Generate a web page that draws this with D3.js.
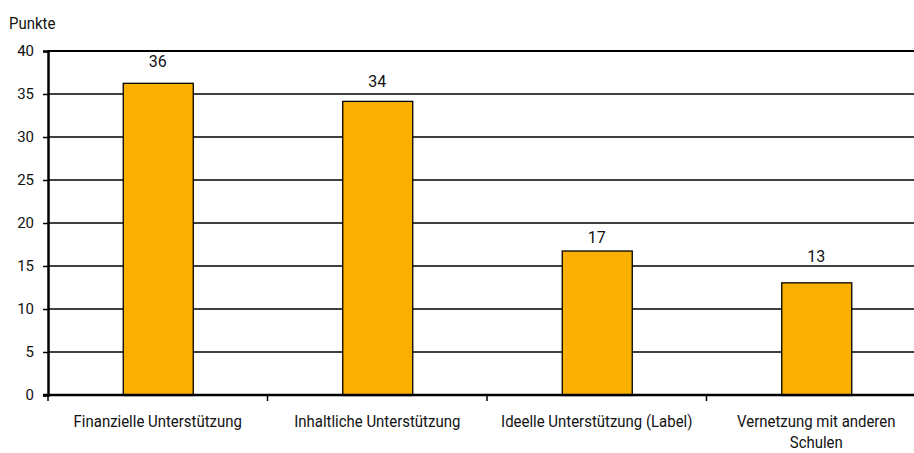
<!DOCTYPE html>
<html><head><meta charset="utf-8">
<script src="https://cdn.jsdelivr.net/npm/d3@7"></script>
<style>body{margin:0;background:#fff}svg{display:block}text{font-family:Roboto,"Noto Sans",sans-serif;fill:#111}</style>
</head><body><svg id="c" width="914" height="453"></svg>
<script>
const categories = [["Finanzielle Unterstützung"],["Inhaltliche Unterstützung"],["Ideelle Unterstützung (Label)"],["Vernetzung mit anderen","Schulen"]];
const values = [36.3, 34.2, 16.8, 13.1];
const valueLabels = ["36","34","17","13"];
const yTicks = [0,5,10,15,20,25,30,35,40];
const yTitle = "Punkte";

const svg = d3.select("#c");
const x0 = 48, x1 = 926, yTop = 51, yBot = 395;
const x = d3.scaleBand().domain(d3.range(categories.length)).range([x0, x1]).paddingInner(0).paddingOuter(0);
const y = d3.scaleLinear().domain([0,40]).range([yBot, yTop]);
const barW = 70;
const sx = 0.88;
const labelGap = [16, 14, 8, 20]; // label placement offsets above bar tops (style)

// gridlines
svg.append("g").selectAll("line").data(yTicks.filter(t=>t>0)).join("line")
  .attr("x1", x0).attr("x2", x1).attr("y1", d=>y(d)).attr("y2", d=>y(d))
  .attr("stroke", "#000").attr("stroke-width", d=> d===40 ? 2 : 1.4);

// bars
svg.append("g").selectAll("rect").data(values).join("rect")
  .attr("x", (d,i)=> x(i) + x.bandwidth()/2 - barW/2 + 0.5)
  .attr("y", d=> y(d)+0.5).attr("width", barW).attr("height", d=> yBot - y(d))
  .attr("fill", "#F9B000").attr("stroke", "#000").attr("stroke-width", 1.3);

// value labels
svg.append("g").selectAll("text").data(values).join("text")
  .attr("x", (d,i)=> x(i) + x.bandwidth()/2).attr("y", (d,i)=> y(d) - labelGap[i])
  .attr("text-anchor","middle").attr("font-size", 16).text((d,i)=>valueLabels[i]);

// y axis
const yAxis = d3.axisLeft(y).tickValues(yTicks).tickSize(5).tickPadding(9);
const gy = svg.append("g").attr("transform", `translate(${x0},0)`).call(yAxis);
gy.select(".domain").attr("stroke","#000").attr("stroke-width",2.5);
gy.selectAll(".tick line").attr("stroke","#000").attr("stroke-width",1.5);
gy.selectAll(".tick text").attr("font-size",15).attr("fill","#111")
  .style("font-family","Roboto,sans-serif");

// x axis baseline
svg.append("line").attr("x1", x0-5).attr("x2", x1).attr("y1", yBot).attr("y2", yBot).attr("stroke","#000").attr("stroke-width",2.5);
// category dividers
svg.append("g").selectAll("line").data(d3.range(categories.length+1)).join("line")
  .attr("x1", i=> x0 + i*x.bandwidth()).attr("x2", i=> x0 + i*x.bandwidth())
  .attr("y1", yBot).attr("y2", yBot+6).attr("stroke","#000").attr("stroke-width",1.5);

// category labels
const cl = svg.append("g").selectAll("text").data(categories).join("text")
  .attr("text-anchor","middle").attr("font-size",17)
  .attr("transform",(d,i)=>`translate(${x(i)+x.bandwidth()/2},${yBot+32}) scale(${sx},1)`);
cl.selectAll("tspan").data(d=>d).join("tspan").attr("x",0).attr("dy",(d,j)=> j===0?0:21).text(d=>d);

svg.append("text").attr("transform",`translate(9,29) scale(${sx},1)`).attr("font-size",17).text(yTitle);
</script></body></html>
